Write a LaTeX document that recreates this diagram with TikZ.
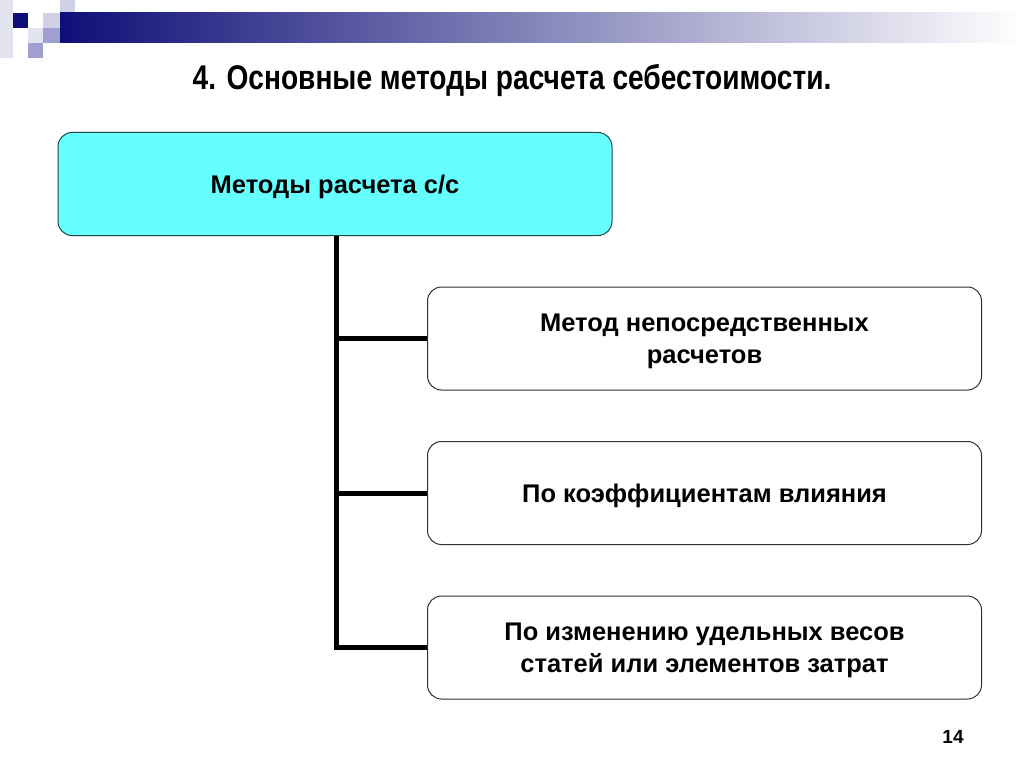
\documentclass[tikz,border=0pt]{standalone}
\usepackage{fontspec}
\setmainfont{Liberation Sans}
\newfontfamily\titlefont[FakeStretch=0.82]{Liberation Sans}
\definecolor{navyA}{RGB}{14,14,120}
\definecolor{navyMid}{RGB}{140,140,185}
\definecolor{sqLight}{RGB}{208,208,230}
\definecolor{sqPale}{RGB}{228,228,240}
\definecolor{sqMed}{RGB}{160,160,208}
\definecolor{cyanbox}{RGB}{102,255,255}
\definecolor{cyanborder}{RGB}{30,70,80}
\definecolor{boxborder}{RGB}{50,50,50}
\tikzset{
  boxbase/.style={rounded corners=14pt, line width=1pt, minimum width=554pt, minimum height=103pt,
    align=center, font=\fontsize{25.5}{32}\selectfont\bfseries, inner sep=0pt, text depth=0pt},
  mainbox/.style={boxbase, fill=cyanbox, draw=cyanborder},
  childbox/.style={boxbase, fill=white, draw=boxborder},
  conn/.style={line width=5pt, draw=black},
}
\begin{document}
\begin{tikzpicture}[x=1pt,y=-1pt]
\useasboundingbox (0,0) rectangle (1024,767);
\fill[white] (0,0) rectangle (1024,767);
% decoration
\fill[sqPale] (0,0) rectangle (13,58);
\fill[navyA] (13,13) rectangle (28,28);
\fill[sqLight] (43,13) rectangle (60,28);
\fill[sqLight] (60,0) rectangle (75,13);
\fill[sqMed] (60,13) rectangle (75,28);
\fill[sqPale] (28,28) rectangle (43,43);
\fill[sqMed] (43,28) rectangle (60,43);
\fill[sqMed] (28,43) rectangle (43,58);
\shade[left color=navyA, middle color=navyMid, right color=white] (60,13) rectangle (1022,43);
% title
\node[font=\titlefont\fontsize{34.3}{40}\selectfont\bfseries] (title) at (512,80) {4. Основные методы расчета себестоимости.};
% boxes
\node[mainbox] (main) at (335,184) {Методы расчета с/с};
\node[childbox] (c1) at (704.5,338.5) {Метод непосредственных\\расчетов};
\node[childbox] (c2) at (704.5,493) {По коэффициентам влияния};
\node[childbox] (c3) at (704.5,647.5) {По изменению удельных весов\\статей или элементов затрат};
\coordinate (tx) at (336,0);
\draw[conn] (main.south -| tx) |- (c3.west);
\draw[conn] (tx |- c1.west) -- (c1.west);
\draw[conn] (tx |- c2.west) -- (c2.west);
\node[font=\fontsize{19}{22}\selectfont\bfseries] (pg) at (953,737) {14};
\end{tikzpicture}
\end{document}
